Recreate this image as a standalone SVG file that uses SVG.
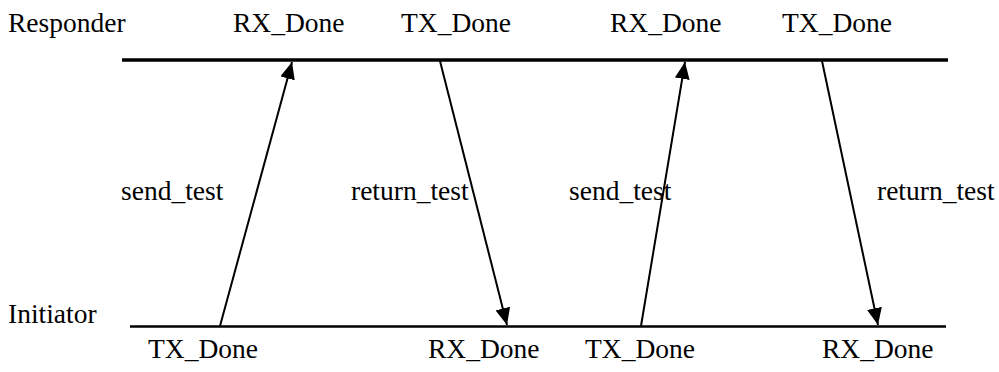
<svg xmlns="http://www.w3.org/2000/svg" width="999" height="372" viewBox="0 0 999 372">
  <style>
    text { font-family: "Liberation Serif", "Times New Roman", serif; font-size: 27.5px; fill: #000; }
    .lifeline { stroke: #000; fill: none; }
    .msg { stroke: #000; stroke-width: 2; fill: none; marker-end: url(#arrow); }
  </style>
  <defs>
    <!-- filled triangular arrowhead, tip on the line end -->
    <marker id="arrow" viewBox="0 0 17 15" refX="17" refY="7.5" markerWidth="17" markerHeight="15" markerUnits="userSpaceOnUse" orient="auto">
      <path d="M0,0 L17,7.5 L0,15 z" fill="#000"/>
    </marker>
  </defs>

  <!-- Responder lifeline -->
  <g id="responder">
    <text x="8" y="32">Responder</text>
    <line class="lifeline" x1="122" y1="60" x2="948" y2="60" stroke-width="3.5"/>
    <text x="233" y="32">RX_Done</text>
    <text x="401" y="32">TX_Done</text>
    <text x="610" y="32">RX_Done</text>
    <text x="782" y="32">TX_Done</text>
  </g>

  <!-- Initiator lifeline -->
  <g id="initiator">
    <text x="8" y="323">Initiator</text>
    <line class="lifeline" x1="130" y1="326.5" x2="946" y2="326.5" stroke-width="2.5"/>
    <text x="148" y="358">TX_Done</text>
    <text x="428" y="358">RX_Done</text>
    <text x="585" y="358">TX_Done</text>
    <text x="822" y="358">RX_Done</text>
  </g>

  <!-- Messages exchanged between the two lifelines -->
  <g id="connectors">
    <line class="msg" x1="220" y1="326" x2="292" y2="62"/>
    <line class="msg" x1="440" y1="61" x2="507" y2="325"/>
    <line class="msg" x1="641" y1="326" x2="685" y2="62"/>
    <line class="msg" x1="822" y1="61" x2="878" y2="325"/>
    <text x="121" y="200">send_test</text>
    <text x="351" y="200">return_test</text>
    <text x="569" y="200">send_test</text>
    <text x="877" y="200">return_test</text>
  </g>
</svg>
